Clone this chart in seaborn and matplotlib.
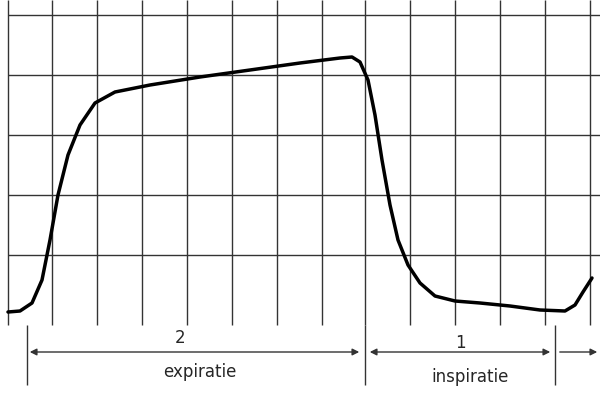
import matplotlib
matplotlib.use("Agg")
import matplotlib.pyplot as plt
import seaborn as sns
import pandas as pd

# curve (x in px, y in px from top)
curve_x = [8, 20, 32, 42, 50, 58, 68, 80, 95, 115, 150, 200, 250, 300, 340, 352, 360, 368, 375, 382, 390, 398, 408, 420, 435, 455, 480, 510, 540, 565, 575, 583, 592]
curve_y = [312, 311, 303, 280, 240, 195, 155, 125, 103, 92, 85, 77, 70, 63, 58, 57, 62, 80, 115, 160, 205, 240, 265, 283, 296, 301, 303, 306, 310, 311, 305, 292, 278]
grid_x = [8, 52, 97, 142, 187, 232, 277, 322, 365, 410, 455, 500, 545, 590]
grid_y = [15, 75, 135, 195, 255]
labels = ["2", "expiratie", "1", "inspiratie"]

sns.set_style("white")
fig = plt.figure(figsize=(6, 4), dpi=100)
ax = fig.add_axes([0, 0, 1, 1])
ax.set_xlim(0, 600); ax.set_ylim(400, 0); ax.axis("off")
ax.vlines(grid_x, 0, 325, color="#333", lw=1)
ax.hlines(grid_y, 8, 600, color="#333", lw=1)
ax.vlines([27, 365, 555], 325, 385, color="#333", lw=1)
df = pd.DataFrame({"x": curve_x, "y": curve_y})
sns.lineplot(data=df, x="x", y="y", sort=False, ax=ax, color="black", lw=2.5)
ax.set_xlim(0, 600); ax.set_ylim(400, 0); ax.axis("off")
arr = dict(arrowstyle="<|-|>", color="#333", lw=1, mutation_scale=10)
ax.annotate("", xy=(27, 352), xytext=(362, 352), arrowprops=arr)
ax.annotate("", xy=(367, 352), xytext=(553, 352), arrowprops=arr)
ax.annotate("", xy=(557, 352), xytext=(600, 352), arrowprops=dict(arrowstyle="<|-", color="#333", lw=1, mutation_scale=10))
ax.text(180, 338, labels[0], ha="center", va="center", fontsize=12)
ax.text(200, 372, labels[1], ha="center", va="center", fontsize=12)
ax.text(460, 343, labels[2], ha="center", va="center", fontsize=12)
ax.text(470, 377, labels[3], ha="center", va="center", fontsize=12)
fig.savefig("out.png", dpi=100)
